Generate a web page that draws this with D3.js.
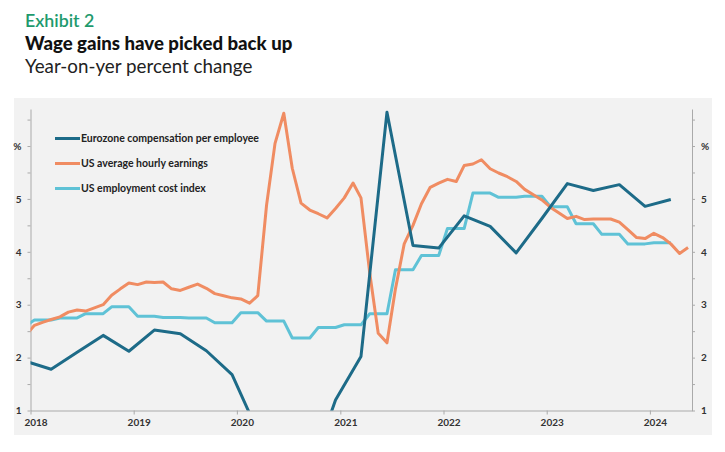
<!DOCTYPE html>
<html lang="en">
<head>
    <meta charset="UTF-8">
    <title>Wage gains have picked back up</title>
    <style>
        body { margin: 0; background: #fff; }
        .title { font-family: Lato, sans-serif; }
        .axis text { font-family: Lato, sans-serif; font-size: 10px; font-weight: 700; fill: #333; }
        .axis path, .axis line { stroke: #aaa; }
        .legend_text { font-family: Lato, sans-serif; font-size: 10.5px; font-weight: 700; fill: #222; }
    </style>
    <script src="https://cdn.jsdelivr.net/npm/d3@7"></script>
</head>
<body>
<svg width="725" height="452"></svg>

<script>
    // series labels and colours
    const seriesNames = ["Eurozone compensation per employee", "US average hourly earnings", "US employment cost index"];
    const seriesColors = ["#1d6b88", "#f08c62", "#5fc2d6"];

    // Eurozone, quarterly (Dec 2017 .. Mar 2024), % y/y
    const ezQuarterEnds = ["2017-12", "2018-03", "2018-06", "2018-09", "2018-12", "2019-03", "2019-06", "2019-09",
        "2019-12", "2020-03", "2020-06", "2020-09", "2020-12", "2021-03", "2021-06", "2021-09", "2021-12",
        "2022-03", "2022-06", "2022-09", "2022-12", "2023-03", "2023-06", "2023-09", "2023-12", "2024-03"];
    const ezValues = [1.93, 1.78, 2.10, 2.42, 2.12, 2.52, 2.45, 2.13, 1.68, 0.6, -4.3, -0.2, 1.2,
        2.02, 6.64, 4.12, 4.07, 4.68, 4.48, 3.98, 4.63, 5.29, 5.16, 5.27, 4.86, 4.99];

    // US average hourly earnings, monthly (Dec 2017 .. May 2024)
    const aheStart = "2017-12";
    const aheValues = [2.42,
        2.61, 2.67, 2.72, 2.77, 2.86, 2.90, 2.88, 2.94, 3.00, 3.18, 3.30, 3.41,
        3.38, 3.43, 3.42, 3.43, 3.30, 3.27, 3.33, 3.39, 3.31, 3.21, 3.17, 3.13,
        3.11, 3.03, 3.17, 4.88, 6.05, 6.62, 5.58, 4.92, 4.79, 4.72, 4.64, 4.82,
        5.02, 5.30, 5.02, 3.60, 2.46, 2.28, 3.30, 4.15, 4.50, 4.91, 5.22, 5.30,
        5.37, 5.33, 5.63, 5.66, 5.74, 5.57, 5.49, 5.42, 5.33, 5.18, 5.08, 4.98,
        4.84, 4.73, 4.63, 4.67, 4.61, 4.62, 4.62, 4.62, 4.56, 4.42, 4.27, 4.25,
        4.35, 4.27, 4.15, 3.97, 4.08];

    // US ECI, quarterly (Q4 2017 .. Q1 2024); chart holds each value across the quarter's months
    const eciStart = "2017-10";
    const eciValues = [2.60,
        2.71, 2.75, 2.83, 2.96,
        2.78, 2.76, 2.75, 2.66,
        2.85, 2.69, 2.37, 2.57,
        2.62, 2.83, 3.66, 3.93,
        4.44, 5.11, 5.03, 5.05,
        4.85, 4.53, 4.33, 4.15,
        4.17];

    const yearTicks = [2018, 2019, 2020, 2021, 2022, 2023, 2024];
    const yTicks = [1, 1.5, 2, 2.5, 3, 3.5, 4, 4.5, 5, 5.5, 6, 6.5];

    const parseMonth = d3.timeParse("%Y-%m");
    const midMonth = d => d3.timeDay.offset(d, 14);

    const ezData = ezQuarterEnds.map((m, i) => ({date: midMonth(parseMonth(m)), value: ezValues[i]}));
    const aheData = aheValues.map((v, i) => ({date: midMonth(d3.timeMonth.offset(parseMonth(aheStart), i)), value: v}));
    let eciData = [];
    eciValues.forEach(function (v, q) {
        for (let k = 0; k < 3; k++) {
            eciData.push({date: midMonth(d3.timeMonth.offset(parseMonth(eciStart), q * 3 + k)), value: v});
        }
    });

    let svg = d3.select("svg");

    // titles
    svg.append("text").attr("class", "title").attr("x", 25).attr("y", 27)
        .attr("font-size", "17.8px").attr("font-weight", 600).attr("fill", "#1e9a6d").text("Exhibit 2");
    svg.append("text").attr("class", "title").attr("x", 25).attr("y", 50)
        .attr("font-size", "18.6px").attr("font-weight", 900).attr("fill", "#111").text("Wage gains have picked back up");
    svg.append("text").attr("class", "title").attr("x", 25).attr("y", 72.5)
        .attr("font-size", "18.8px").attr("fill", "#222").text("Year-on-yer percent change");

    // panel
    svg.append("rect").attr("x", 14).attr("y", 98).attr("width", 698).attr("height", 337).attr("fill", "#f2f2f2");

    const plotL = 30.5, plotR = 692, plotT = 109, plotB = 410.5;
    const x = d3.scaleTime()
        .domain([new Date(2018, 0, 1), new Date(2024, 4, 29)])
        .range([plotL, plotR]);
    const y = d3.scaleLinear().domain([1, 6.7]).range([plotB, plotT]);

    const fmt = function (d) {
        if (d === 6) return "%";
        return Number.isInteger(d) ? d : "";
    };

    svg.append("g").attr("class", "axis").attr("transform", `translate(${plotL},0)`)
        .call(d3.axisLeft(y).tickValues(yTicks).tickFormat(fmt).tickSize(3).tickSizeOuter(0).tickPadding(6));
    svg.append("g").attr("class", "axis").attr("transform", `translate(${plotR},0)`)
        .call(d3.axisRight(y).tickValues(yTicks).tickFormat(fmt).tickSize(3).tickSizeOuter(0).tickPadding(6));
    svg.append("g").attr("class", "axis").attr("transform", `translate(0,${plotB})`)
        .call(d3.axisBottom(x).tickValues(yearTicks.map(yr => new Date(yr, 0, 1)))
            .tickFormat(d3.timeFormat("%Y")).tickSize(4).tickSizeOuter(0).tickPadding(4))
        .selectAll("text").attr("dx", 5);

    svg.append("clipPath").attr("id", "plot").append("rect")
        .attr("x", plotL).attr("y", plotT - 5).attr("width", plotR - plotL).attr("height", plotB - plotT + 5);

    const line = d3.line().x(d => x(d.date)).y(d => y(d.value));

    const series = [ezData, aheData, eciData];
    svg.append("g").attr("clip-path", "url(#plot)")
        .selectAll("path").data([2, 1, 0]).enter().append("path")
        .attr("fill", "none")
        .attr("stroke", i => seriesColors[i])
        .attr("stroke-width", 3)
        .attr("stroke-linejoin", "round")
        .attr("d", i => line(series[i]));

    // legend
    let legend = svg.append("g").selectAll("g").data(seriesNames).enter().append("g")
        .attr("transform", (d, i) => `translate(55,${138.5 + i * 25})`);
    legend.append("line").attr("x1", 0).attr("x2", 25).attr("y1", 0).attr("y2", 0)
        .attr("stroke", (d, i) => seriesColors[i]).attr("stroke-width", 3);
    legend.append("text").attr("class", "legend_text").attr("x", 26).attr("y", 3.5).text(d => d);
</script>
</body>
</html>
